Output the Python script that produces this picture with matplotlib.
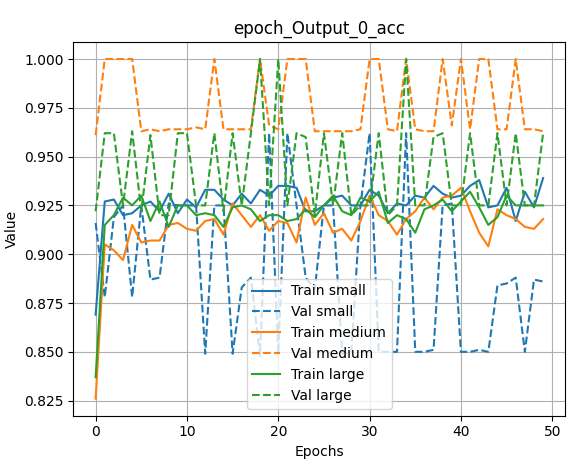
import matplotlib
matplotlib.use("Agg")
import matplotlib.pyplot as plt

epochs = list(range(50))
train_small = [0.869,0.927,0.928,0.920,0.921,0.925,0.927,0.922,0.931,0.921,0.928,0.924,0.933,0.933,0.928,0.925,0.931,0.926,0.933,0.930,0.935,0.935,0.934,0.922,0.922,0.925,0.929,0.930,0.925,0.925,0.933,0.930,0.921,0.926,0.925,0.930,0.929,0.935,0.931,0.929,0.930,0.935,0.938,0.924,0.925,0.934,0.917,0.932,0.924,0.939]
val_small = [0.916,0.878,0.919,0.925,0.878,0.925,0.887,0.888,0.926,0.925,0.925,0.925,0.849,0.925,0.925,0.849,0.883,0.888,0.848,0.962,0.849,0.962,0.925,0.888,0.882,0.925,0.925,0.849,0.850,0.925,0.962,0.850,0.850,0.850,0.962,0.850,0.850,0.851,0.925,0.926,0.850,0.850,0.851,0.850,0.884,0.885,0.888,0.850,0.887,0.886]
train_medium = [0.826,0.905,0.902,0.897,0.915,0.906,0.907,0.907,0.915,0.916,0.913,0.912,0.917,0.918,0.910,0.926,0.920,0.914,0.920,0.912,0.917,0.916,0.906,0.929,0.915,0.921,0.911,0.913,0.907,0.917,0.930,0.920,0.917,0.910,0.918,0.922,0.929,0.923,0.929,0.930,0.934,0.922,0.911,0.904,0.923,0.920,0.918,0.914,0.913,0.918]
val_medium = [0.961,1.000,1.000,1.000,1.000,0.963,0.964,0.963,0.964,0.964,0.964,0.965,0.964,1.000,0.964,0.964,0.964,0.964,1.000,0.966,0.964,1.000,1.000,1.000,0.963,0.963,0.963,0.963,0.963,0.964,1.000,1.000,0.964,0.963,1.000,0.964,0.963,0.963,1.000,0.966,1.000,0.964,1.000,1.000,0.964,0.964,1.000,0.964,0.964,0.963]
train_large = [0.837,0.915,0.920,0.929,0.925,0.930,0.917,0.927,0.914,0.925,0.925,0.920,0.921,0.920,0.914,0.924,0.925,0.923,0.917,0.920,0.920,0.917,0.918,0.923,0.919,0.925,0.930,0.922,0.920,0.929,0.927,0.932,0.916,0.920,0.918,0.911,0.923,0.925,0.928,0.922,0.927,0.932,0.924,0.915,0.919,0.930,0.925,0.925,0.925,0.925]
val_large = [0.922,0.962,0.962,0.925,0.963,0.922,0.961,0.920,0.920,0.962,0.962,0.925,0.925,0.962,0.922,0.962,0.925,0.962,1.000,0.925,1.000,0.925,0.962,0.960,0.920,0.962,0.925,0.962,0.920,0.925,0.925,0.962,0.920,0.925,1.000,0.925,0.925,0.960,0.962,0.925,0.925,0.962,0.925,0.925,0.962,0.925,0.962,0.925,0.925,0.962]

fig, ax = plt.subplots(figsize=(5.86, 4.67), dpi=100)
ax.plot(epochs, train_small, color='#1f77b4', label='Train small')
ax.plot(epochs, val_small, color='#1f77b4', ls='--', label='Val small')
ax.plot(epochs, train_medium, color='#ff7f0e', label='Train medium')
ax.plot(epochs, val_medium, color='#ff7f0e', ls='--', label='Val medium')
ax.plot(epochs, train_large, color='#2ca02c', label='Train large')
ax.plot(epochs, val_large, color='#2ca02c', ls='--', label='Val large')
ax.set_title('epoch_Output_0_acc')
ax.set_xlabel('Epochs')
ax.set_ylabel('Value')
ax.set_yticks([0.825,0.85,0.875,0.9,0.925,0.95,0.975,1.0])
ax.set_xticks([0,10,20,30,40,50])
ax.grid(True)
ax.legend(loc='lower center')
fig.subplots_adjust(left=0.125, right=0.965, top=0.91, bottom=0.11)
fig.savefig('out.png')
